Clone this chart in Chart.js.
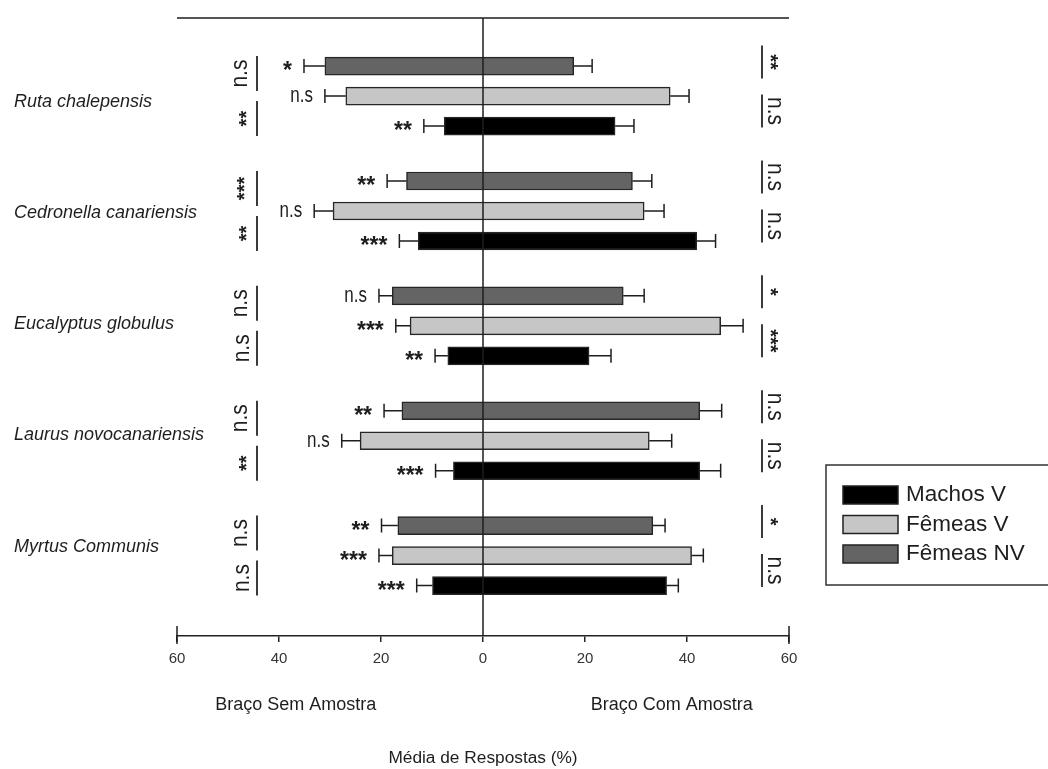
<!DOCTYPE html>
<html>
<head>
<meta charset="utf-8">
<script src="https://cdn.jsdelivr.net/npm/chart.js@4/dist/chart.umd.min.js"></script>
<style>
  html, body { margin: 0; padding: 0; background: #ffffff; }
  #wrap { width: 1048px; height: 769px; position: relative; }
</style>
</head>
<body>
<div id="wrap"><canvas id="c" width="1048" height="769"></canvas></div>
<script>
// Plant extracts tested (one group of bars each)
const species = ['Ruta chalepensis', 'Cedronella canariensis', 'Eucalyptus globulus', 'Laurus novocanariensis', 'Myrtus Communis'];

// Mean responses (%) on the arm without sample (drawn to the left) and with sample (to the right)
const femeasNVSem = [31.0, 15.0, 17.8, 15.9, 16.7];
const femeasNVCom = [17.8, 29.3, 27.5, 42.5, 33.3];
const femeasNVSemErr = [4.1, 3.8, 2.6, 3.5, 3.2];
const femeasNVComErr = [3.6, 3.8, 4.1, 4.3, 2.4];

const femeasVSem = [26.9, 29.4, 14.3, 24.1, 17.8];
const femeasVCom = [36.7, 31.6, 46.6, 32.6, 40.9];
const femeasVSemErr = [4.1, 3.7, 2.8, 3.6, 2.6];
const femeasVComErr = [3.7, 3.9, 4.4, 4.4, 2.3];

const machosVSem = [7.6, 12.7, 6.9, 5.8, 9.9];
const machosVCom = [25.9, 41.9, 20.8, 42.5, 36.0];
const machosVSemErr = [4.0, 3.7, 2.5, 3.5, 3.1];
const machosVComErr = [3.7, 3.7, 4.3, 4.1, 2.3];

// Significance of each bar (sem vs com arm)
const sigFemeasNV = ['*', '**', 'n.s', '**', '**'];
const sigFemeasV = ['n.s', 'n.s', '***', 'n.s', '***'];
const sigMachosV = ['**', '***', '**', '***', '***'];

// Significance between groups, per arm (upper pair / lower pair)
const semUpper = ['n.s', '***', 'n.s', 'n.s', 'n.s'];
const semLower = ['**', '**', 'n.s', '**', 'n.s'];
const comUpper = ['**', 'n.s', '*', 'n.s', '*'];
const comLower = ['n.s', 'n.s', '***', 'n.s', 'n.s'];

// Axis
const xMin = -60, xMax = 60, xStep = 20;
const armLabels = ['Braço Sem Amostra', 'Braço Com Amostra'];
const axisTitle = 'Média de Respostas (%)';

const INK = '#1e1e1e';
const FONT = "'Liberation Sans', Arial, sans-serif";

function rows(sem, com) {
  return sem.map((v, i) => ({ y: i, x: [-v, com[i]] }));
}

function txt(ctx, s, x, y, o) {
  ctx.save();
  ctx.translate(x, y);
  if (o.rot) ctx.rotate(o.rot);
  ctx.scale(o.sx || 1, o.sy || 1);
  ctx.font = o.font;
  ctx.fillStyle = o.color || INK;
  ctx.textAlign = o.align || 'left';
  ctx.textBaseline = o.base || 'middle';
  ctx.fillText(s, 0, o.dy || 0);
  ctx.restore();
}

// significance mark, vertically centred on (x, y) in its own frame
function sigText(ctx, s, x, y, align, rot) {
  const stars = s.indexOf('*') === 0;
  if (stars) {
    const size = rot ? 20 : 23;
    const font = 'bold ' + size + 'px ' + FONT;
    txt(ctx, s, x, y, { font, align, base: 'alphabetic', dy: size * 0.52, rot });
  } else {
    const size = rot ? 21 : 17;
    const sy = rot ? 1.1 : 1.3;
    txt(ctx, s, x, y, { font: size + 'px ' + FONT, align, base: 'alphabetic', dy: size * 0.27, rot, sy });
  }
}

const decorations = {
  id: 'decorations',
  afterDatasetsDraw(chart) {
    const ctx = chart.ctx;
    const xs = chart.scales.x;
    const area = chart.chartArea;
    const x0 = xs.getPixelForValue(0);

    ctx.save();
    ctx.strokeStyle = INK;
    ctx.lineWidth = 1.5;

    // error whiskers and per-bar significance
    chart.data.datasets.forEach((ds, di) => {
      const meta = chart.getDatasetMeta(di);
      meta.data.forEach((bar, i) => {
        const y = bar.y;
        const l = -ds.data[i].x[0], r = ds.data[i].x[1];
        const lEnd = xs.getPixelForValue(-(l + ds.semErr[i]));
        const rEnd = xs.getPixelForValue(r + ds.comErr[i]);
        ctx.beginPath();
        ctx.moveTo(xs.getPixelForValue(-l), y); ctx.lineTo(lEnd, y);
        ctx.moveTo(lEnd, y - 7); ctx.lineTo(lEnd, y + 7);
        ctx.moveTo(xs.getPixelForValue(r), y); ctx.lineTo(rEnd, y);
        ctx.moveTo(rEnd, y - 7); ctx.lineTo(rEnd, y + 7);
        ctx.stroke();
        sigText(ctx, ds.sig[i], lEnd - 12, y, 'right');
      });
    });

    // frame: top rule, zero line, taller end ticks
    ctx.beginPath();
    ctx.moveTo(area.left, area.top); ctx.lineTo(area.right, area.top);
    ctx.moveTo(x0, area.top); ctx.lineTo(x0, area.bottom);
    ctx.moveTo(area.left, area.bottom - 10); ctx.lineTo(area.left, area.bottom + 8);
    ctx.moveTo(area.right, area.bottom - 10); ctx.lineTo(area.right, area.bottom + 8);
    ctx.stroke();

    // group brackets on both arms
    const m0 = chart.getDatasetMeta(0).data, m1 = chart.getDatasetMeta(1).data, m2 = chart.getDatasetMeta(2).data;
    const lx = area.left + 80, rx = area.right - 27;
    // species names sit on a slightly tighter pitch than the bar groups
    const nameTop = m1[0].y + 6, nameBottom = m1[species.length - 1].y - 9;
    ctx.strokeStyle = '#3a3a3a';
    ctx.lineWidth = 2;
    species.forEach((name, i) => {
      const a = m0[i].y, b = m1[i].y, c = m2[i].y;
      const lu = 0.75 * a + 0.25 * b, ll = 0.25 * b + 0.75 * c;
      const ru = a - 4, rl = (b + c) / 2;
      ctx.beginPath();
      ctx.moveTo(lx, lu - 17.5); ctx.lineTo(lx, lu + 17.5);
      ctx.moveTo(lx, ll - 17.5); ctx.lineTo(lx, ll + 17.5);
      ctx.moveTo(rx, ru - 16.5); ctx.lineTo(rx, ru + 16.5);
      ctx.moveTo(rx, rl - 16.5); ctx.lineTo(rx, rl + 16.5);
      ctx.stroke();
      sigText(ctx, semUpper[i], lx - 16, lu, 'center', -Math.PI / 2);
      sigText(ctx, semLower[i], lx - 14, ll, 'center', -Math.PI / 2);
      sigText(ctx, comUpper[i], rx + 12, ru, 'center', Math.PI / 2);
      sigText(ctx, comLower[i], rx + 12, rl, 'center', Math.PI / 2);

      // species name
      const ny = nameTop + (nameBottom - nameTop) * i / (species.length - 1);
      txt(ctx, name, 14, ny, { font: 'italic 18px ' + FONT, align: 'left' });
    });

    // arm labels and axis title
    txt(ctx, armLabels[0], xs.getPixelForValue(-36.7), 705, { font: '18px ' + FONT, align: 'center' });
    txt(ctx, armLabels[1], xs.getPixelForValue(37.0), 705, { font: '18px ' + FONT, align: 'center' });
    txt(ctx, axisTitle, x0, 758, { font: '17.3px ' + FONT, align: 'center' });

    // legend
    const lgX = 826, lgY = 465;
    ctx.strokeStyle = '#333';
    ctx.lineWidth = 1.5;
    ctx.strokeRect(lgX, lgY, 260, 120);
    const order = [2, 1, 0];
    order.forEach((di, k) => {
      const ds = chart.data.datasets[di];
      const cy = 495 + k * 29.5;
      ctx.fillStyle = ds.backgroundColor;
      ctx.fillRect(843, cy - 9, 55, 18);
      ctx.strokeStyle = '#222';
      ctx.strokeRect(843, cy - 9, 55, 18);
      txt(ctx, ds.label, 906, cy, { font: '22.5px ' + FONT, align: 'left' });
    });

    ctx.restore();
  }
};

new Chart(document.getElementById('c'), {
  type: 'bar',
  data: {
    datasets: [
      { label: 'Fêmeas NV', data: rows(femeasNVSem, femeasNVCom), backgroundColor: '#646464',
        semErr: femeasNVSemErr, comErr: femeasNVComErr, sig: sigFemeasNV },
      { label: 'Fêmeas V', data: rows(femeasVSem, femeasVCom), backgroundColor: '#c6c6c6',
        semErr: femeasVSemErr, comErr: femeasVComErr, sig: sigFemeasV },
      { label: 'Machos V', data: rows(machosVSem, machosVCom), backgroundColor: '#000000',
        semErr: machosVSemErr, comErr: machosVComErr, sig: sigMachosV }
    ]
  },
  options: {
    indexAxis: 'y',
    responsive: false,
    animation: false,
    layout: { padding: { left: 177, right: 259, top: 18, bottom: 0 } },
    datasets: { bar: { barThickness: 30, maxBarThickness: 18, borderColor: '#262626', borderWidth: 1.5, borderSkipped: false } },
    scales: {
      x: {
        type: 'linear', min: xMin, max: xMax,
        ticks: { stepSize: xStep, callback: v => Math.abs(v), color: '#333', padding: 8, font: { family: FONT, size: 15 } },
        grid: { drawOnChartArea: false, drawTicks: true, tickLength: 6, color: '#222', lineWidth: 1.5 },
        border: { display: true, color: '#222', width: 1.5 },
        afterFit(s) { s.height = 133; }
      },
      y: { type: 'linear', min: -0.68, max: 4.7, reverse: true, offset: false, display: false }
    },
    plugins: { legend: { display: false }, tooltip: { enabled: false } }
  },
  plugins: [decorations]
});
</script>
</body>
</html>
